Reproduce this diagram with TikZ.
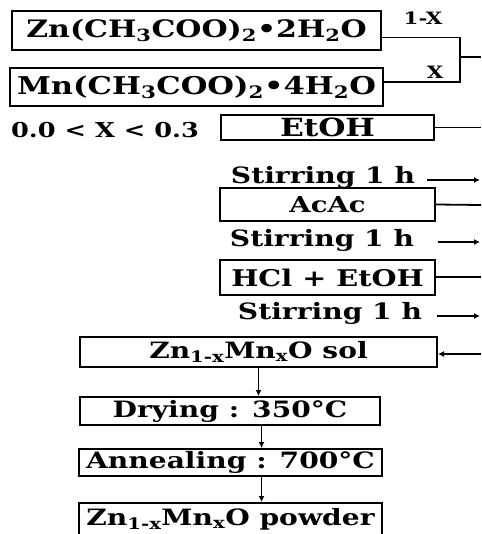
\documentclass[tikz,border=0pt]{standalone}
\usepackage{fontspec}
\setmainfont{DejaVu Serif}[FakeStretch=1.25]
\usepackage{tikz}
\usetikzlibrary{positioning, arrows.meta}

\newcommand{\fsz}[1]{\bfseries\fontsize{#1}{#1}\selectfont}

\begin{document}
\begin{tikzpicture}[x=1pt, y=-1pt, font=\fsz{22.5},
    procbox/.style={draw, line width=2pt, inner sep=0pt, align=center},
    link/.style={line width=1.8pt},
    flow/.style={line width=1.6pt, -{Latex[length=6pt, width=6pt]}}]
  \useasboundingbox (0,0) rectangle (481,534);
  % starting salts
  \node[procbox, font=\fsz{24}, minimum width=369pt, minimum height=39pt] (zn) at (196.5,30.5)
    {Zn(CH\textsubscript{3}COO)\textsubscript{2}•2H\textsubscript{2}O};
  \node[procbox, font=\fsz{24.5}, minimum width=373pt, minimum height=38pt] (mn) at (196.5,87)
    {Mn(CH\textsubscript{3}COO)\textsubscript{2}•4H\textsubscript{2}O};
  \node[font=\fsz{17}] (frac1) at (423,18) {1-X};
  \node[font=\fsz{17}] (frac2) at (435,72) {X};
  \node[font=\fsz{20.5}] (range) at (105,130) {0.0 < X < 0.3};
  % solvents and stirring
  \node[procbox, font=\fsz{25}, minimum width=213pt, minimum height=25pt] (etoh) at (327.5,127.5) {EtOH};
  \node (stir1) at (323,177) {Stirring 1 h};
  \node[procbox, font=\fsz{22}, minimum width=215pt, minimum height=33pt] (acac) at (327.5,204.5) {AcAc};
  \node (stir2) at (322,240) {Stirring 1 h};
  \node[procbox, font=\fsz{23}, minimum width=215pt, minimum height=35pt] (hcl) at (327.5,277.5) {HCl + EtOH};
  \node (stir3) at (330,313) {Stirring 1 h};
  % products
  \node[procbox, minimum width=357pt, minimum height=30pt] (sol) at (258.5,352)
    {Zn\textsubscript{1-x}Mn\textsubscript{x}O sol};
  \node[procbox, minimum width=300pt, minimum height=28pt] (dry) at (230,411) {Drying : 350°C};
  \node[procbox, minimum width=303pt, minimum height=27pt] (anneal) at (230.5,462.5) {Annealing : 700°C};
  \node[procbox, font=\fsz{22.5}, minimum width=303pt, minimum height=32pt] (powder) at (230.5,519)
    {Zn\textsubscript{1-x}Mn\textsubscript{x}O powder};
  % right hand side
  \coordinate (join) at (460,57);
  \coordinate (edge0) at (481,57);
  \coordinate (edge1) at (481,127.5);
  \coordinate (start2) at (427,180);
  \coordinate (edge2) at (480,180);
  \coordinate (edge3) at (481,205);
  \coordinate (start4) at (438,242);
  \coordinate (edge4) at (480,242);
  \coordinate (edge5) at (481,277);
  \coordinate (start6) at (437,316);
  \coordinate (edge6) at (480,316);
  \coordinate (edge7) at (481,354);
  \draw[link] ([yshift=-7pt]zn.east) -| (join);
  \draw[link] ([yshift=5pt]mn.east) -| (join);
  \draw[link] (join) -- (edge0);
  \draw[link] (etoh.east) -- (edge1);
  \draw[flow] (start2) -- (edge2);
  \draw[link] (acac.east) -- (edge3);
  \draw[flow] (start4) -- (edge4);
  \draw[link] (hcl.east |- edge5) -- (edge5);
  \draw[flow] (start6) -- (edge6);
  \draw[flow] (edge7) -- (sol.east |- edge7);
  % down the column
  \draw[flow] (sol.south) -- (sol.south |- dry.north);
  \draw[flow] ([xshift=3pt]sol.south |- dry.south) -- ([xshift=3pt]sol.south |- anneal.north);
  \draw[flow] ([xshift=3pt]sol.south |- anneal.south) -- ([xshift=3pt]sol.south |- powder.north);
\end{tikzpicture}
\end{document}
